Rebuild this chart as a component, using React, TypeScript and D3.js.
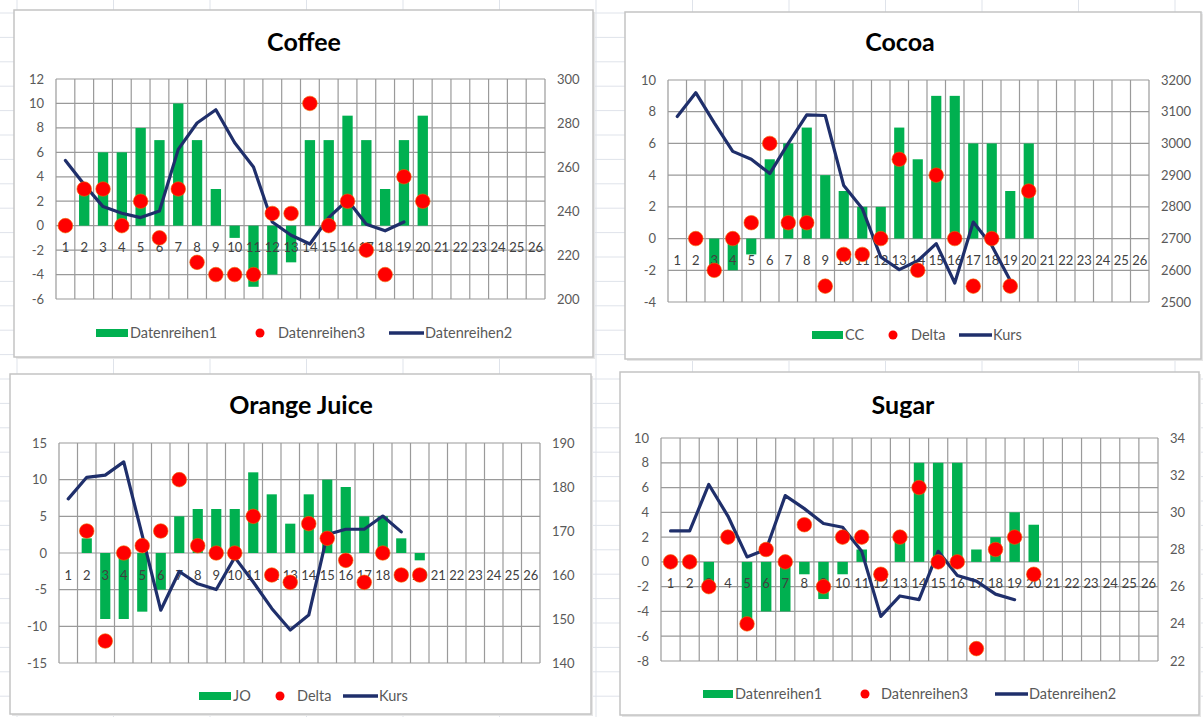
import React from "react";
import * as d3 from "d3";

// ---------- DATA ----------
const categories = ["1","2","3","4","5","6","7","8","9","10","11","12","13","14","15","16","17","18","19","20","21","22","23","24","25","26"];

const coffeeBars = [0, 3, 6, 6, 8, 7, 10, 7, 3, -1, -5, -4, -3, 7, 7, 9, 7, 3, 7, 9];
const coffeeDots = [0, 3, 3, 0, 2, -1, 3, -3, -4, -4, -4, 1, 1, 10, 0, 2, -2, -4, 4, 2];
const coffeeLine = [263, 252, 242, 239, 237, 240, 268, 280, 286, 271, 260, 235, 229, 225, 237, 245, 234, 231, 235];
const coffeeLeftTicks = [-6, -4, -2, 0, 2, 4, 6, 8, 10, 12];
const coffeeRightTicks = [200, 220, 240, 260, 280, 300];
const coffeeLegend = ["Datenreihen1", "Datenreihen3", "Datenreihen2"];

const cocoaBars = [0, 0, -2, -2, -1, 5, 6, 7, 4, 3, 2, 2, 7, 5, 9, 9, 6, 6, 3, 6];
const cocoaDots = [null, 0, -2, 0, 1, 6, 1, 1, -3, -1, -1, 0, 5, -2, 4, 0, -3, 0, -3, 3];
const cocoaLine = [3085, 3160, 3065, 2975, 2950, 2905, 3000, 3090, 3088, 2867, 2795, 2642, 2602, 2630, 2684, 2560, 2752, 2678, 2568];
const cocoaLeftTicks = [-4, -2, 0, 2, 4, 6, 8, 10];
const cocoaRightTicks = [2500, 2600, 2700, 2800, 2900, 3000, 3100, 3200];
const cocoaLegend = ["CC", "Delta", "Kurs"];

const ojBars = [0, 2, -9, -9, -8, -5, 5, 6, 6, 6, 11, 8, 4, 8, 10, 9, 5, 5, 2, -1];
const ojDots = [null, 3, -12, 0, 1, 3, 10, 1, 0, 0, 5, -3, -4, 4, 2, -1, -4, 0, -3, -3];
const ojLine = [177.3, 182.2, 182.7, 185.7, 169, 152, 160.8, 158, 156.7, 164, 158.4, 152.4, 147.5, 150.9, 169.2, 170.4, 170.4, 173.4, 169.8];
const ojLeftTicks = [-15, -10, -5, 0, 5, 10, 15];
const ojRightTicks = [140, 150, 160, 170, 180, 190];
const ojLegend = ["JO", "Delta", "Kurs"];

const sugarBars = [0, 0, -2, 0, -5, -4, -4, -1, -3, -1, 1, 0, 2, 8, 8, 8, 1, 2, 4, 3];
const sugarDots = [0, 0, -2, 2, -5, 1, 0, 3, -2, 2, 2, -1, 2, 6, 0, 0, -7, 1, 2, -1];
const sugarLine = [29, 29, 31.5, 29.8, 27.6, 28, 30.9, 30.2, 29.4, 29.2, 27.9, 24.4, 25.5, 25.3, 27.9, 26.6, 26.3, 25.6, 25.3];
const sugarLeftTicks = [-8, -6, -4, -2, 0, 2, 4, 6, 8, 10];
const sugarRightTicks = [22, 24, 26, 28, 30, 32, 34];
const sugarLegend = ["Datenreihen1", "Datenreihen3", "Datenreihen2"];

// ---------- STYLE ----------
const GREEN = "#00b050";
const RED = "#ff0000";
const NAVY = "#1f2f6b";
const GRID = "#9a9a9a";
const TEXT = "#595959";
const FONT = "Lato, 'Open Sans', sans-serif";

type PanelProps = {
  title: string;
  titleX: number;
  titleY: number;
  box: [number, number, number, number];
  plot: { l: number; t: number; r: number; b: number };
  leftTicks: number[];
  rightTicks: number[];
  bars: number[];
  dots: (number | null)[];
  line: number[];
  legend: string[];
  legendY: number;
  legendX: [number, number, number, number, number, number];
  legendFont: number;
};

function Panel(p: PanelProps) {
  const x = d3.scaleBand<string>().domain(categories).range([p.plot.l, p.plot.r]).paddingInner(0).paddingOuter(0);
  const yL = d3.scaleLinear().domain(d3.extent(p.leftTicks) as [number, number]).range([p.plot.b, p.plot.t]);
  const yR = d3.scaleLinear().domain(d3.extent(p.rightTicks) as [number, number]).range([p.plot.b, p.plot.t]);
  const bw = x.bandwidth();
  const barW = bw * 0.55;
  const lineGen = d3
    .line<number>()
    .x((_, i) => (x(categories[i]) as number) + bw / 2)
    .y((d) => yR(d))
    .curve(d3.curveLinear);
  const [bx, by, bwid, bh] = p.box;
  const boundaries = categories.map((c) => x(c) as number).concat([p.plot.r]);
  const [gx, gt, dx, dt, lx0, lt] = p.legendX;
  return (
    <g>
      <rect x={bx + 2} y={by + 2} width={bwid} height={bh} fill="#e6e6e6" />
      <rect x={bx} y={by} width={bwid} height={bh} fill="#ffffff" stroke="#c4c4c4" strokeWidth={1.5} />
      <text x={p.titleX} y={p.titleY} textAnchor="middle" fontFamily={FONT} fontWeight="bold" fontSize={25} fill="#000">
        {p.title}
      </text>
      {/* gridlines */}
      {p.leftTicks.map((t) => (
        <line key={"h" + t} x1={p.plot.l} x2={p.plot.r} y1={yL(t)} y2={yL(t)} stroke={GRID} strokeWidth={1.2} />
      ))}
      {boundaries.map((bxv, i) => (
        <line key={"v" + i} x1={bxv} x2={bxv} y1={p.plot.t} y2={p.plot.b} stroke={GRID} strokeWidth={1.2} />
      ))}
      {/* left tick labels */}
      {p.leftTicks.map((t) => (
        <text key={"l" + t} x={p.plot.l - 12} y={yL(t)} dy="0.35em" textAnchor="end" fontFamily={FONT} fontSize={13} fill={TEXT}>
          {t}
        </text>
      ))}
      {/* right tick labels */}
      {p.rightTicks.map((t) => (
        <text key={"r" + t} x={p.plot.r + 12} y={yR(t)} dy="0.35em" textAnchor="start" fontFamily={FONT} fontSize={13} fill={TEXT}>
          {t}
        </text>
      ))}
      {/* bars */}
      {p.bars.map((v, i) => (
        <rect
          key={"b" + i}
          x={(x(categories[i]) as number) + (bw - barW) / 2}
          y={Math.min(yL(v), yL(0))}
          width={barW}
          height={Math.abs(yL(v) - yL(0))}
          fill={GREEN}
        />
      ))}
      {/* category labels */}
      {categories.map((c) => (
        <text key={"c" + c} x={(x(c) as number) + bw / 2} y={yL(0) + 22} dy="0.35em" textAnchor="middle" fontFamily={FONT} fontSize={13} fill="#404040">
          {c}
        </text>
      ))}
      {/* line */}
      <path d={lineGen(p.line) || ""} fill="none" stroke={NAVY} strokeWidth={3.2} strokeLinejoin="round" strokeLinecap="round" />
      {/* dots */}
      {p.dots.map((v, i) =>
        v === null ? null : (
          <circle key={"d" + i} cx={(x(categories[i]) as number) + bw / 2} cy={yL(v)} r={7.3} fill={RED} stroke="#f06a00" strokeWidth={0.6} />
        )
      )}
      {/* legend */}
      <rect x={gx} y={p.legendY - 4} width={gt - gx - 2} height={8} fill={GREEN} />
      <text x={gt} y={p.legendY} dy="0.35em" fontFamily={FONT} fontSize={p.legendFont} fill={TEXT}>
        {p.legend[0]}
      </text>
      <circle cx={dx} cy={p.legendY} r={4.5} fill={RED} />
      <text x={dt} y={p.legendY} dy="0.35em" fontFamily={FONT} fontSize={p.legendFont} fill={TEXT}>
        {p.legend[1]}
      </text>
      <line x1={lx0} x2={lt - 1} y1={p.legendY} y2={p.legendY} stroke={NAVY} strokeWidth={3.5} />
      <text x={lt} y={p.legendY} dy="0.35em" fontFamily={FONT} fontSize={p.legendFont} fill={TEXT}>
        {p.legend[2]}
      </text>
    </g>
  );
}

export default function App() {
  const W = 1203;
  const H = 717;
  const rows = d3.range(13, H, 24.4);
  const cols = d3.range(17, W, 96.5);
  return (
    <svg width={W} height={H} style={{ position: "absolute", left: 0, top: 0, background: "#fff" }}>
      {rows.map((r, i) => (
        <line key={"sr" + i} x1={0} x2={W} y1={r} y2={r} stroke="#dfe3ea" strokeWidth={1} />
      ))}
      {cols.map((c, i) => (
        <line key={"sc" + i} x1={c} x2={c} y1={0} y2={H} stroke="#dfe3ea" strokeWidth={1} />
      ))}
      <Panel
        title="Coffee"
        titleX={304}
        titleY={51}
        box={[14, 10, 579, 347]}
        plot={{ l: 56, t: 79, r: 545, b: 299 }}
        leftTicks={coffeeLeftTicks}
        rightTicks={coffeeRightTicks}
        bars={coffeeBars}
        dots={coffeeDots}
        line={coffeeLine}
        legend={coffeeLegend}
        legendY={333}
        legendX={[96, 130, 260, 278, 389, 425]}
        legendFont={14.5}
      />
      <Panel
        title="Cocoa"
        titleX={900}
        titleY={51}
        box={[625, 12, 576, 347]}
        plot={{ l: 668, t: 80, r: 1149, b: 302 }}
        leftTicks={cocoaLeftTicks}
        rightTicks={cocoaRightTicks}
        bars={cocoaBars}
        dots={cocoaDots}
        line={cocoaLine}
        legend={cocoaLegend}
        legendY={335}
        legendX={[812, 845, 893, 911, 959, 993]}
        legendFont={14.5}
      />
      <Panel
        title="Orange Juice"
        titleX={301}
        titleY={414}
        box={[10, 374, 581, 340]}
        plot={{ l: 59, t: 443, r: 540, b: 663 }}
        leftTicks={ojLeftTicks}
        rightTicks={ojRightTicks}
        bars={ojBars}
        dots={ojDots}
        line={ojLine}
        legend={ojLegend}
        legendY={696}
        legendX={[199, 233, 280, 297, 343, 379]}
        legendFont={14.5}
      />
      <Panel
        title="Sugar"
        titleX={903}
        titleY={414}
        box={[620, 372, 579, 343]}
        plot={{ l: 661, t: 438, r: 1158, b: 661 }}
        leftTicks={sugarLeftTicks}
        rightTicks={sugarRightTicks}
        bars={sugarBars}
        dots={sugarDots}
        line={sugarLine}
        legend={sugarLegend}
        legendY={694}
        legendX={[703, 735, 865, 881, 995, 1029]}
        legendFont={14.5}
      />
    </svg>
  );
}
